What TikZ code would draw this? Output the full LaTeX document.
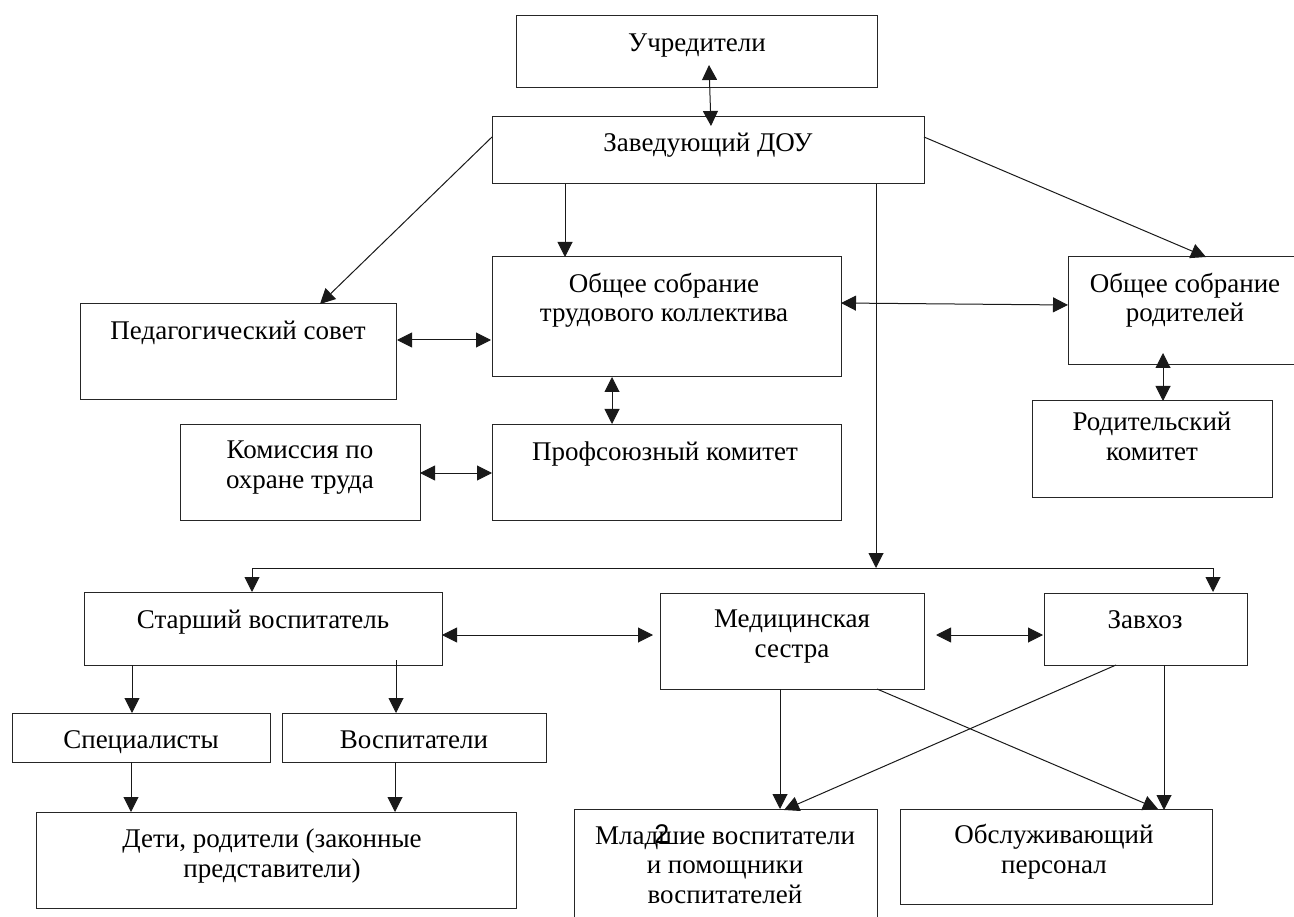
\documentclass[tikz,border=0pt]{standalone}
\usepackage{fontspec}
\setmainfont{Liberation Serif}
\newfontfamily\pagenumfont{Liberation Sans}
\usetikzlibrary{arrows.meta}
\newcommand\bx[5]{\node[box, minimum width={#4-#2}, minimum height={#5-#3}] (#1) at ({(#2+#4)/2},{(#3+#5)/2}) {};}
\begin{document}
\begin{tikzpicture}[x=1pt,y=-1pt,
  box/.style={draw=black!85, line width=1pt, rectangle, inner sep=0pt, outer sep=0pt},
  txt/.style={anchor=base, align=center, inner sep=0pt, font=\fontsize{27}{29.5}\selectfont},
  tip/.tip={Triangle[length=15pt,width=15pt]},
  conn/.style={line width=1pt, draw=black!90, -tip},
  biconn/.style={line width=1pt, draw=black!90, tip-tip}]
\useasboundingbox (0,0) rectangle (1294,917);
\clip (0,0) rectangle (1294,917);
% boxes
\bx{uch}{516}{16}{877}{88}
\bx{zav}{492}{117}{924}{184}
\bx{ped}{80}{304}{396}{400}
\bx{obtr}{492}{257}{841}{377}
\bx{prof}{492}{424}{841}{520}
\bx{kom}{180}{424}{420}{520}
\bx{obrod}{1068}{257}{1302}{365}
\bx{rodkom}{1032}{401}{1272}{497}
\bx{sv}{84}{592}{442}{665}
\bx{med}{660}{593}{924}{689}
\bx{zx}{1044}{593}{1247}{665}
\bx{spec}{12}{713}{270}{762}
\bx{vos}{282}{713}{546}{762}
\bx{deti}{36}{812}{516}{908}
\bx{mlad}{574}{809}{877}{940}
\bx{obs}{900}{809}{1212}{904}
% texts (anchor base = baseline of the last line)
\node[txt] (uch-t) at (697,52) {Учредители};
\node[txt] (zav-t) at (708,152) {Заведующий ДОУ};
\node[txt] (ped-t) at (238,340) {Педагогический совет};
\node[txt] (obtr-t) at (664,322) {Общее собрание\\трудового коллектива};
\node[txt] (prof-t) at (665,460) {Профсоюзный комитет};
\node[txt] (kom-t) at (300,488) {Комиссия по\\охране труда};
\node[txt] (obrod-t) at (1185,322) {Общее собрание\\родителей};
\node[txt] (rodkom-t) at (1152,460) {Родительский\\комитет};
\node[txt] (sv-t) at (263,628) {Старший воспитатель};
\node[txt] (med-t) at (792,657) {Медицинская\\сестра};
\node[txt] (zx-t) at (1145,628) {Завхоз};
\node[txt] (spec-t) at (141,748) {Специалисты};
\node[txt] (vos-t) at (414,748) {Воспитатели};
\node[txt] (deti-t) at (272,877) {Дети, родители (законные\\представители)};
\node[txt] (mlad-t) at (725,903) {Младшие воспитатели\\и помощники\\воспитателей};
\node[txt] (obs-t) at (1054,873) {Обслуживающий\\персонал};
\node[anchor=base, inner sep=0pt, font=\pagenumfont\fontsize{27}{30}\selectfont] (pnum) at (662,843) {2};
% connector end points
\coordinate (a1) at (709,65);  \coordinate (a2) at (711,126);
\coordinate (b1) at (492,137); \coordinate (b2) at (320,304);
\coordinate (c1) at (565,184); \coordinate (c2) at (565,257);
\coordinate (d1) at (924,137); \coordinate (d2) at (1206,257);
\coordinate (e1) at (876,184); \coordinate (e2) at (876,568);
\coordinate (f1) at (252,592); \coordinate (f2) at (1213,592);
\coordinate (g1) at (397,340); \coordinate (g2) at (491,340);
\coordinate (h1) at (612,377); \coordinate (h2) at (612,424);
\coordinate (i1) at (420,473); \coordinate (i2) at (492,473);
\coordinate (j1) at (841,303); \coordinate (j2) at (1068,305);
\coordinate (k1) at (1163,353); \coordinate (k2) at (1163,401);
\coordinate (l1) at (442,635); \coordinate (l2) at (653,635);
\coordinate (m1) at (936,635); \coordinate (m2) at (1043,635);
\coordinate (n1) at (132,665); \coordinate (n2) at (132,713);
\coordinate (o1) at (396,660); \coordinate (o2) at (396,713);
\coordinate (p1) at (131,762); \coordinate (p2) at (131,812);
\coordinate (q1) at (395,762); \coordinate (q2) at (395,812);
\coordinate (r1) at (780,689); \coordinate (r2) at (780,809);
\coordinate (s1) at (1116,665); \coordinate (s2) at (784,810);
\coordinate (t1) at (877,689); \coordinate (t2) at (1158,809);
\coordinate (u1) at (1164,665); \coordinate (u2) at (1164,810);
% connectors
\draw[biconn] (a1) -- (a2);
\draw[conn] (b1) -- (b2);
\draw[conn] (c1) -- (c2);
\draw[conn] (d1) -- (d2);
\draw[conn] (e1) -- (e2);
\draw[biconn] (f1) -- (f1 |- e2) -- (f2 |- e2) -- (f2);
\draw[biconn] (g1) -- (g2);
\draw[biconn] (h1) -- (h2);
\draw[biconn] (i1) -- (i2);
\draw[biconn] (j1) -- (j2);
\draw[biconn] (k1) -- (k2);
\draw[biconn] (l1) -- (l2);
\draw[biconn] (m1) -- (m2);
\draw[conn] (n1) -- (n2);
\draw[conn] (o1) -- (o2);
\draw[conn] (p1) -- (p2);
\draw[conn] (q1) -- (q2);
\draw[conn] (r1) -- (r2);
\draw[conn] (s1) -- (s2);
\draw[conn] (t1) -- (t2);
\draw[conn] (u1) -- (u2);
\end{tikzpicture}
\end{document}
